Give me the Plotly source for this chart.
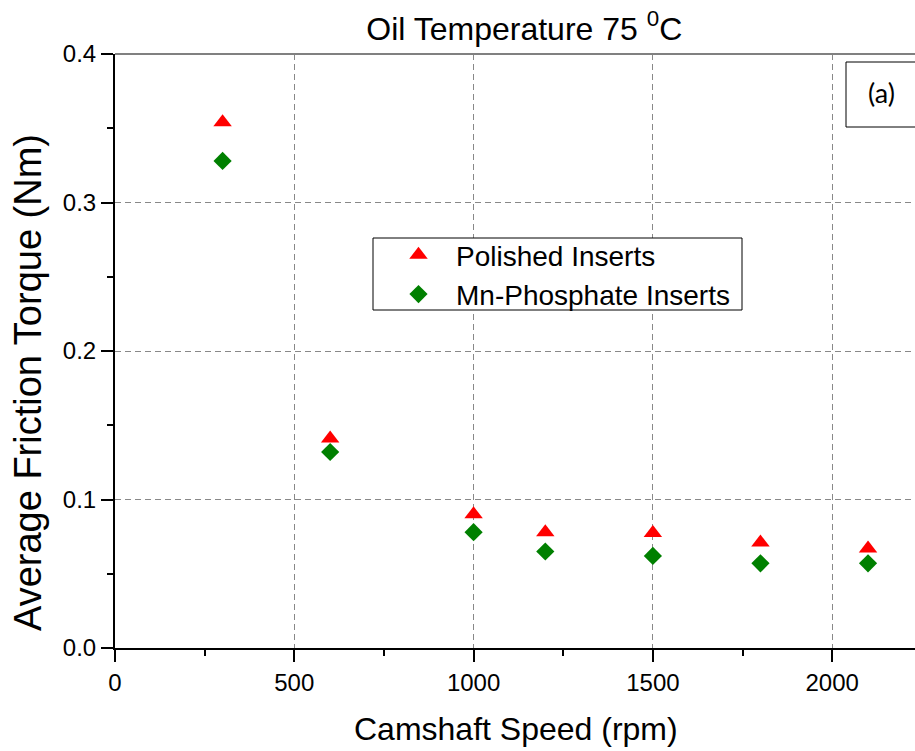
import plotly.graph_objects as go

speed = [300, 600, 1000, 1200, 1500, 1800, 2100]
polished = [0.354, 0.141, 0.090, 0.078, 0.0775, 0.071, 0.067]
mn_phosphate = [0.328, 0.132, 0.078, 0.065, 0.062, 0.057, 0.057]

x_ticks = [0, 500, 1000, 1500, 2000]
y_ticks = [0.0, 0.1, 0.2, 0.3, 0.4]
y_tick_labels = ["0.0", "0.1", "0.2", "0.3", "0.4"]

FONT = "Liberation Sans"

fig = go.Figure()
fig.add_trace(go.Scatter(
    x=speed, y=polished, mode="markers", name="Polished Inserts",
    marker=dict(symbol="triangle-up", size=16, color="#ff0000", line=dict(width=0)),
))
fig.add_trace(go.Scatter(
    x=speed, y=mn_phosphate, mode="markers", name="Mn-Phosphate Inserts",
    marker=dict(symbol="diamond", size=14, color="#008000", line=dict(width=0)),
))

fig.update_layout(
    width=915, height=751,
    paper_bgcolor="white", plot_bgcolor="white",
    margin=dict(l=115, r=0, t=54, b=103),
    font=dict(family=FONT, color="black"),
    title=dict(text="Oil Temperature 75 <sup>0</sup>C", x=0.573, xanchor="center",
               y=0.962, yanchor="middle", font=dict(size=32, family=FONT)),
    showlegend=True,
    legend=dict(x=(381 - 115) / 800, y=(648 - 230) / 594, xanchor="left", yanchor="top",
                borderwidth=0, bgcolor="rgba(0,0,0,0)",
                font=dict(size=28, family=FONT), itemwidth=65,
                tracegroupgap=0),
)

fig.update_xaxes(
    range=[0, 2231], tickvals=x_ticks, ticktext=[str(v) for v in x_ticks],
    showline=True, linecolor="black", linewidth=2,
    ticks="outside", ticklen=12, tickwidth=2, tickcolor="black",
    minor=dict(dtick=250, tick0=0, ticks="outside", ticklen=6, tickwidth=2,
               tickcolor="black", showgrid=False),
    showgrid=True, gridcolor="#888888", gridwidth=1, griddash="6px,4px",
    zeroline=False, tickfont=dict(size=24, family=FONT),
)
fig.update_yaxes(
    range=[0, 0.4], tickvals=y_ticks, ticktext=y_tick_labels,
    showline=True, linecolor="black", linewidth=2,
    ticks="outside", ticklen=12, tickwidth=2, tickcolor="black",
    minor=dict(tickvals=[0.05, 0.15, 0.25, 0.35], ticks="outside", ticklen=6,
               tickwidth=2, tickcolor="black", showgrid=False),
    showgrid=True, gridcolor="#888888", gridwidth=1, griddash="6px,4px",
    zeroline=False, tickfont=dict(size=24, family=FONT),
)

# axis titles
fig.add_annotation(text="Camshaft Speed (rpm)", xref="paper", yref="paper",
                   x=(516 - 115) / 800, y=(648 - 729) / 594, showarrow=False,
                   xanchor="center", yanchor="middle", font=dict(size=32, family=FONT))
fig.add_annotation(text="Average Friction Torque (Nm)", xref="paper", yref="paper",
                   x=(28 - 115) / 800, y=(648 - 383) / 594, showarrow=False, textangle=-90,
                   xanchor="center", yanchor="middle", font=dict(size=38, family=FONT))

# top frame line (gray)
fig.add_shape(type="line", xref="paper", yref="paper", x0=0, x1=1, y0=1, y1=1,
              line=dict(color="#808080", width=2))
# legend box
fig.add_shape(type="rect", xref="paper", yref="paper",
              x0=(373 - 115) / 800, x1=(742 - 115) / 800,
              y0=(648 - 310) / 594, y1=(648 - 238) / 594,
              line=dict(color="black", width=1), fillcolor="white", layer="above")
# (a) box
fig.add_shape(type="rect", xref="paper", yref="paper",
              x0=(846 - 115) / 800, x1=1.05, y0=(648 - 127) / 594, y1=(648 - 62) / 594,
              line=dict(color="black", width=1), fillcolor="white", layer="above")
fig.add_annotation(text="(a)", xref="paper", yref="paper",
                   x=(881 - 115) / 800, y=(648 - 93) / 594, showarrow=False,
                   xanchor="center", yanchor="middle",
                   font=dict(size=27, family="Lato"))

fig.write_html("out.html")
